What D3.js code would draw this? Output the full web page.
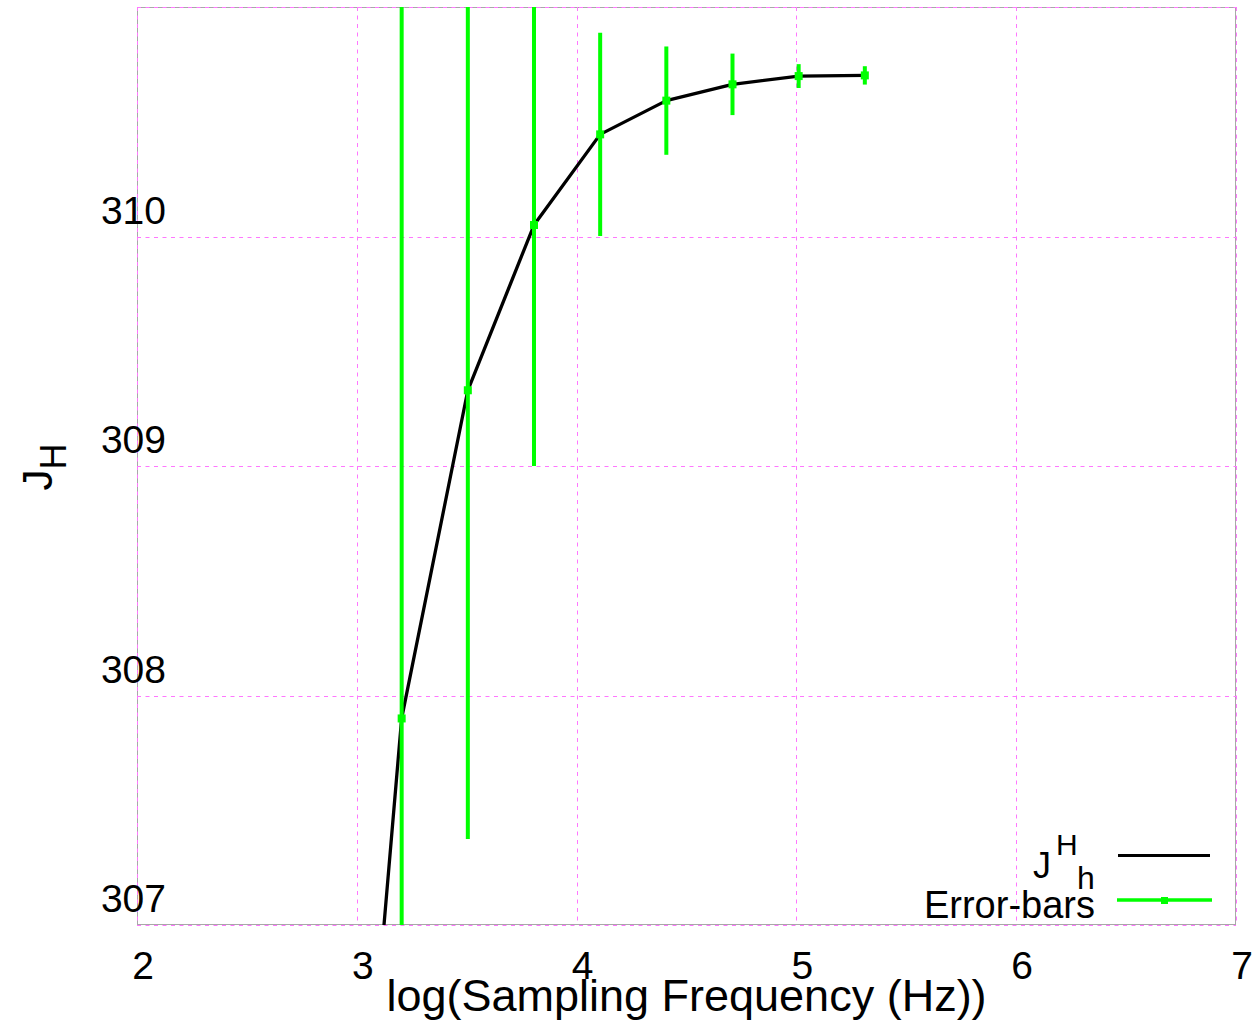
<!DOCTYPE html>
<html>
<head>
<meta charset="utf-8">
<script src="https://cdn.jsdelivr.net/npm/d3@7"></script>
<style>
  html, body { margin: 0; padding: 0; background: #fff; }
  svg { display: block; font-family: "Liberation Sans", Arial, sans-serif; }
</style>
</head>
<body>
<svg id="chart" width="1260" height="1021"></svg>
<script>
// Converged J_H estimate versus sampling frequency
const lineFreqHz = [800, 1600, 3200, 6400, 12800, 25600, 51200, 102400, 204800];
const lineJH     = [304.53, 307.90, 309.33, 310.05, 310.445, 310.592, 310.663, 310.699, 310.702];

// Error-bar series (centre value and half-width)
const errFreqHz = [1600, 3200, 6400, 12800, 25600, 51200, 102400, 204800];
const errJH     = [307.90, 309.33, 310.05, 310.445, 310.592, 310.663, 310.699, 310.702];
const errHalf   = [3.40, 1.955, 1.05, 0.443, 0.236, 0.134, 0.052, 0.040];

const xTicks = [2, 3, 4, 5, 6, 7];
const yTicks = [307, 308, 309, 310];
const xDomain = [2, 7];
const yDomain = [307, 311];

const svg = d3.select("#chart");
const L = 137, R = 1236, T = 7, B = 925;

const x = d3.scaleLinear().domain(xDomain).range([L, R]);
const y = d3.scaleLinear().domain(yDomain).range([B, T]);
const crisp = v => Math.round(v) + 0.5;

const gridColor = "#ff77ff";
const dash = "4,4.5";

// clip to plotting area
svg.append("defs").append("clipPath").attr("id", "plotClip")
  .append("rect").attr("x", L).attr("y", T).attr("width", R - L).attr("height", B - T);

// frame
svg.append("rect")
  .attr("x", L + 0.5).attr("y", T + 0.5).attr("width", R - L - 1).attr("height", B - T - 1)
  .attr("fill", "none").attr("stroke", "#a8a8a8").attr("stroke-width", 1);

// grid lines
const grid = svg.append("g");
grid.selectAll("line.vx").data(xTicks).join("line")
  .attr("x1", d => crisp(x(d))).attr("x2", d => crisp(x(d)))
  .attr("y1", T).attr("y2", B)
  .attr("stroke", gridColor).attr("stroke-width", 1).attr("stroke-dasharray", dash);
grid.selectAll("line.hy").data(yTicks.concat([311])).join("line")
  .attr("x1", L).attr("x2", R)
  .attr("y1", d => crisp(y(d))).attr("y2", d => crisp(y(d)))
  .attr("stroke", gridColor).attr("stroke-width", 1).attr("stroke-dasharray", dash);

// tick labels
svg.append("g").selectAll("text").data(xTicks).join("text")
  .attr("x", d => x(d) + 6).attr("y", 979)
  .attr("text-anchor", "middle").attr("font-size", 39).attr("fill", "#000")
  .text(d => d);
svg.append("g").selectAll("text").data(yTicks).join("text")
  .attr("x", L + 29).attr("y", d => y(d) - 13)
  .attr("text-anchor", "end").attr("font-size", 39).attr("fill", "#000")
  .text(d => d);

// axis titles
svg.append("text")
  .attr("x", (L + R) / 2).attr("y", 1011)
  .attr("text-anchor", "middle").attr("font-size", 45).attr("fill", "#000")
  .text("log(Sampling Frequency (Hz))");

const yl = svg.append("text")
  .attr("transform", "translate(52,467) rotate(-90)")
  .attr("text-anchor", "middle").attr("fill", "#000");
yl.append("tspan").attr("font-size", 42).text("J");
yl.append("tspan").attr("font-size", 36).attr("dy", 14).text("H");

// data
const plot = svg.append("g").attr("clip-path", "url(#plotClip)");
const linePts = lineFreqHz.map((f, i) => [Math.log10(f), lineJH[i]]);
plot.append("path")
  .datum(linePts)
  .attr("d", d3.line().x(d => x(d[0])).y(d => y(d[1])))
  .attr("fill", "none").attr("stroke", "#000").attr("stroke-width", 3.3)
  .attr("stroke-linejoin", "round");

const errPts = errFreqHz.map((f, i) => ({ lx: Math.log10(f), v: errJH[i], e: errHalf[i] }));
plot.selectAll("line.err").data(errPts).join("line")
  .attr("x1", d => x(d.lx)).attr("x2", d => x(d.lx))
  .attr("y1", d => y(d.v - d.e)).attr("y2", d => y(d.v + d.e))
  .attr("stroke", "#00ff00").attr("stroke-width", 4);
plot.selectAll("rect.pt").data(errPts).join("rect")
  .attr("x", d => x(d.lx) - 4).attr("y", d => y(d.v) - 4)
  .attr("width", 8).attr("height", 8).attr("fill", "#00ff00");

// legend
const leg = svg.append("g");
const lj = leg.append("text").attr("fill", "#000");
lj.append("tspan").attr("x", 1033).attr("y", 878).attr("font-size", 36).text("J");
lj.append("tspan").attr("x", 1056).attr("y", 855).attr("font-size", 30).text("H");
lj.append("tspan").attr("x", 1077).attr("y", 889).attr("font-size", 32).text("h");
leg.append("line").attr("x1", 1118).attr("x2", 1210).attr("y1", 855.5).attr("y2", 855.5)
  .attr("stroke", "#000").attr("stroke-width", 3);

leg.append("text").attr("x", 1095).attr("y", 918)
  .attr("text-anchor", "end").attr("font-size", 38).attr("fill", "#000")
  .text("Error-bars");
leg.append("line").attr("x1", 1117).attr("x2", 1212).attr("y1", 900).attr("y2", 900)
  .attr("stroke", "#00ff00").attr("stroke-width", 3.5);
leg.append("rect").attr("x", 1161).attr("y", 897).attr("width", 7).attr("height", 7)
  .attr("fill", "#00ff00");
</script>
</body>
</html>
